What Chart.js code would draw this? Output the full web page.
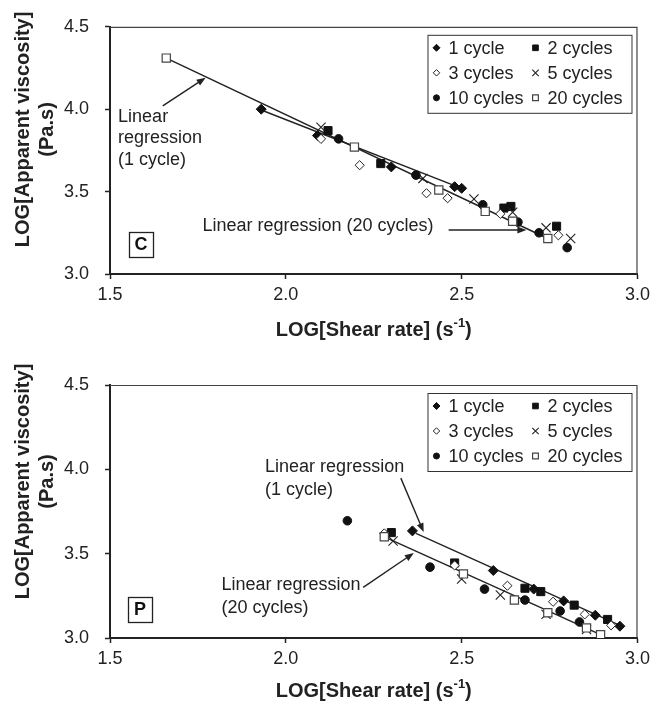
<!DOCTYPE html>
<html>
<head>
<meta charset="utf-8">
<script src="https://cdn.jsdelivr.net/npm/chart.js@4.4.1/dist/chart.umd.min.js"></script>
<style>
  body { margin: 0; background: #fff; }
  .panel { position: absolute; left: 0; width: 655px; }
  canvas { display: block; }
</style>
</head>
<body>
<div class="panel" style="top:0;height:350px"><canvas id="chartC" width="655" height="350"></canvas></div>
<div class="panel" style="top:350px;height:352px"><canvas id="chartP" width="655" height="352"></canvas></div>
<script>
const fontFamily = '"Liberation Sans", Arial, Helvetica, sans-serif';

// legend names
const seriesNames = ['1 cycle', '2 cycles', '3 cycles', '5 cycles', '10 cycles', '20 cycles'];

// tick labels
const xTicks = [1.5, 2.0, 2.5, 3.0];
const yTicks = [3.0, 3.5, 4.0, 4.5];

// panel C : LOG shear rate (x) / LOG apparent viscosity (y)
const c1x = [1.93, 2.09, 2.30, 2.48, 2.50];
const c1y = [4.00, 3.84, 3.65, 3.53, 3.52];
const c2x = [2.12, 2.27, 2.62, 2.64, 2.77];
const c2y = [3.87, 3.67, 3.40, 3.41, 3.29];
const c3x = [2.10, 2.21, 2.40, 2.46, 2.61, 2.775];
const c3y = [3.82, 3.66, 3.49, 3.46, 3.365, 3.235];
const c5x = [2.10, 2.39, 2.535, 2.645, 2.74, 2.81];
const c5y = [3.89, 3.58, 3.455, 3.375, 3.28, 3.215];
const c10x = [2.15, 2.37, 2.56, 2.66, 2.72, 2.80];
const c10y = [3.82, 3.60, 3.42, 3.315, 3.25, 3.16];
const c20x = [1.66, 2.195, 2.435, 2.567, 2.645, 2.745];
const c20y = [4.31, 3.77, 3.51, 3.38, 3.32, 3.215];
// regression lines (end points)
const cFit1x = [1.93, 2.50];
const cFit1y = [3.995, 3.52];
const cFit20x = [1.66, 2.74];
const cFit20y = [4.31, 3.22];

// panel P
const p1x = [2.36, 2.59, 2.705, 2.79, 2.88, 2.95];
const p1y = [3.635, 3.40, 3.29, 3.22, 3.135, 3.07];
const p2x = [2.30, 2.48, 2.68, 2.725, 2.82, 2.915];
const p2y = [3.625, 3.445, 3.295, 3.275, 3.195, 3.11];
const p3x = [2.28, 2.48, 2.63, 2.76, 2.85, 2.925];
const p3y = [3.62, 3.43, 3.31, 3.215, 3.14, 3.075];
const p5x = [2.305, 2.50, 2.61, 2.74, 2.855];
const p5y = [3.575, 3.35, 3.255, 3.14, 3.05];
const p10x = [2.175, 2.41, 2.565, 2.68, 2.78, 2.835];
const p10y = [3.695, 3.42, 3.29, 3.225, 3.16, 3.095];
const p20x = [2.28, 2.505, 2.65, 2.745, 2.855, 2.895];
const p20y = [3.60, 3.38, 3.225, 3.15, 3.06, 3.02];
const pFit1x = [2.37, 2.95];
const pFit1y = [3.62, 3.075];
const pFit20x = [2.28, 2.895];
const pFit20y = [3.60, 3.02];

// marker look for each series (same order as seriesNames)
const seriesStyles = [
  { pointStyle: 'rectRot', radius: 5, backgroundColor: '#111', borderColor: '#111', borderWidth: 1 },
  { pointStyle: 'rect', radius: 5.7, backgroundColor: '#111', borderColor: '#111', borderWidth: 1 },
  { pointStyle: 'rectRot', radius: 4.6, backgroundColor: '#fff', borderColor: '#222', borderWidth: 1 },
  { pointStyle: 'crossRot', radius: 6.5, backgroundColor: '#222', borderColor: '#222', borderWidth: 1.1 },
  { pointStyle: 'circle', radius: 4.3, backgroundColor: '#111', borderColor: '#111', borderWidth: 1 },
  { pointStyle: 'rect', radius: 5.8, backgroundColor: '#fff', borderColor: '#444', borderWidth: 1.2 }
];

function toPoints(xs, ys) {
  return xs.map((x, i) => ({ x: x, y: ys[i] }));
}

// own marker drawing for the legend box
function drawMarker(ctx, st, x, y, r) {
  ctx.beginPath();
  if (st.pointStyle === 'circle') {
    ctx.arc(x, y, r, 0, Math.PI * 2);
  } else if (st.pointStyle === 'rect') {
    const h = r * Math.SQRT1_2;
    ctx.rect(x - h, y - h, 2 * h, 2 * h);
  } else if (st.pointStyle === 'rectRot') {
    ctx.moveTo(x - r, y); ctx.lineTo(x, y - r); ctx.lineTo(x + r, y); ctx.lineTo(x, y + r); ctx.closePath();
  } else if (st.pointStyle === 'crossRot') {
    const d = r * Math.SQRT1_2;
    ctx.moveTo(x - d, y - d); ctx.lineTo(x + d, y + d);
    ctx.moveTo(x - d, y + d); ctx.lineTo(x + d, y - d);
  }
  if (st.pointStyle !== 'crossRot') {
    ctx.fillStyle = st.backgroundColor;
    ctx.fill();
  }
  ctx.lineWidth = st.borderWidth;
  ctx.strokeStyle = st.borderColor;
  ctx.stroke();
}

function drawArrow(ctx, x1, y1, x2, y2) {
  const ang = Math.atan2(y2 - y1, x2 - x1);
  const len = 9, half = 3.5;
  ctx.strokeStyle = '#222';
  ctx.fillStyle = '#222';
  ctx.lineWidth = 1.4;
  ctx.beginPath();
  ctx.moveTo(x1, y1);
  ctx.lineTo(x2 - Math.cos(ang) * len * 0.8, y2 - Math.sin(ang) * len * 0.8);
  ctx.stroke();
  ctx.beginPath();
  ctx.moveTo(x2, y2);
  ctx.lineTo(x2 - Math.cos(ang) * len - Math.sin(ang) * half, y2 - Math.sin(ang) * len + Math.cos(ang) * half);
  ctx.lineTo(x2 - Math.cos(ang) * len + Math.sin(ang) * half, y2 - Math.sin(ang) * len - Math.cos(ang) * half);
  ctx.closePath();
  ctx.fill();
}

// frame, titles, legend and notes
function makeDecor(panel) {
  return {
    id: 'decor',
    afterDraw(chart) {
      const ctx = chart.ctx;
      const a = chart.chartArea;
      const sx = chart.scales.x, sy = chart.scales.y;
      ctx.save();

      // thin top / right frame
      ctx.strokeStyle = '#444';
      ctx.lineWidth = 1.2;
      ctx.beginPath();
      ctx.moveTo(a.left, a.top + 0.5);
      ctx.lineTo(a.right - 0.5, a.top + 0.5);
      ctx.lineTo(a.right - 0.5, a.bottom);
      ctx.stroke();

      // notes
      ctx.fillStyle = '#222';
      ctx.font = '18px ' + fontFamily;
      ctx.textAlign = 'left';
      ctx.textBaseline = 'middle';
      panel.notes.forEach(n => {
        ctx.fillText(n.text, sx.getPixelForValue(n.x), sy.getPixelForValue(n.y));
      });
      panel.arrows.forEach(r => {
        drawArrow(ctx, sx.getPixelForValue(r.x1), sy.getPixelForValue(r.y1),
          sx.getPixelForValue(r.x2), sy.getPixelForValue(r.y2));
      });

      // boxed panel letter
      const bx = sx.getPixelForValue(panel.letterX), by = sy.getPixelForValue(panel.letterY);
      ctx.strokeStyle = '#222';
      ctx.lineWidth = 1.3;
      ctx.strokeRect(Math.round(bx - 12) + 0.5, Math.round(by - 12.5) + 0.5, 24, 25);
      ctx.fillStyle = '#111';
      ctx.font = 'bold 18px ' + fontFamily;
      ctx.textAlign = 'center';
      ctx.fillText(panel.letter, bx, by + 1);

      // legend
      const lx = a.right - 210, ly = a.top + 8;
      ctx.strokeStyle = '#333';
      ctx.lineWidth = 1;
      ctx.fillStyle = '#fff';
      ctx.fillRect(lx, ly, 204, 78);
      ctx.strokeRect(lx + 0.5, ly + 0.5, 204, 78);
      ctx.font = '18px ' + fontFamily;
      ctx.textAlign = 'left';
      seriesNames.forEach((name, i) => {
        const col = i % 2, row = Math.floor(i / 2);
        const mx = lx + (col ? 108 : 9);
        const my = ly + 13 + row * 25;
        drawMarker(ctx, seriesStyles[i], mx, my, seriesStyles[i].radius * 0.7);
        ctx.fillStyle = '#222';
        ctx.fillText(name, mx + 12, my + 1);
      });

      // x title with superscript
      const xc = (a.left + a.right) / 2, xy = a.bottom + panel.xTitleGap;
      const mainT = 'LOG[Shear rate] (s', supT = '-1', endT = ')';
      ctx.font = 'bold 20px ' + fontFamily;
      const w1 = ctx.measureText(mainT).width, w3 = ctx.measureText(endT).width;
      ctx.font = 'bold 13px ' + fontFamily;
      const w2 = ctx.measureText(supT).width;
      let tx = xc - (w1 + w2 + w3) / 2;
      ctx.fillStyle = '#222';
      ctx.font = 'bold 20px ' + fontFamily;
      ctx.fillText(mainT, tx, xy);
      ctx.font = 'bold 13px ' + fontFamily;
      ctx.fillText(supT, tx + w1, xy - 7);
      ctx.font = 'bold 20px ' + fontFamily;
      ctx.fillText(endT, tx + w1 + w2, xy);

      // y title, two rotated lines
      const yc = (a.top + a.bottom) / 2 + panel.yTitleShift;
      ctx.textAlign = 'center';
      [['LOG[Apparent viscosity]', 23], ['(Pa.s)', 47]].forEach(([t, px]) => {
        ctx.save();
        ctx.translate(px, yc);
        ctx.rotate(-Math.PI / 2);
        ctx.fillText(t, 0, 0);
        ctx.restore();
      });
      ctx.restore();
    }
  };
}

function buildChart(canvasId, series, fits, panel) {
  const datasets = [];
  fits.forEach(f => {
    datasets.push({
      data: toPoints(f[0], f[1]),
      showLine: true,
      pointRadius: 0,
      borderColor: '#222',
      borderWidth: 1.4,
      order: 10
    });
  });
  series.forEach((s, i) => {
    const st = seriesStyles[i];
    datasets.push({
      label: seriesNames[i],
      data: toPoints(s[0], s[1]),
      pointStyle: st.pointStyle,
      pointRadius: st.radius,
      pointBackgroundColor: st.backgroundColor,
      pointBorderColor: st.borderColor,
      pointBorderWidth: st.borderWidth,
      showLine: false,
      order: 6 - i
    });
  });

  const tickFont = { size: 18, family: fontFamily };
  return new Chart(document.getElementById(canvasId), {
    type: 'scatter',
    data: { datasets: datasets },
    options: {
      responsive: false,
      animation: false,
      layout: { padding: { top: panel.padTop, right: 16, left: 0, bottom: 0 } },
      plugins: { legend: { display: false }, tooltip: { enabled: false } },
      scales: {
        x: {
          type: 'linear',
          min: xTicks[0],
          max: xTicks[xTicks.length - 1],
          afterBuildTicks: s => { s.ticks = xTicks.map(v => ({ value: v })); },
          ticks: { font: tickFont, color: '#222', padding: 5, maxRotation: 0, callback: v => v.toFixed(1) },
          grid: { drawOnChartArea: false, drawTicks: true, tickLength: 5, tickColor: '#222', tickWidth: 1.5 },
          border: { display: true, color: '#222', width: 2 },
          afterFit: s => { s.height = panel.xAxisHeight; }
        },
        y: {
          type: 'linear',
          min: yTicks[0],
          max: yTicks[yTicks.length - 1],
          afterBuildTicks: s => { s.ticks = yTicks.map(v => ({ value: v })); },
          ticks: { font: tickFont, color: '#222', padding: 16, callback: v => v.toFixed(1) },
          grid: { drawOnChartArea: false, drawTicks: true, tickLength: 5, tickColor: '#222', tickWidth: 1.5 },
          border: { display: true, color: '#222', width: 2 },
          afterFit: s => { s.width = 110; }
        }
      }
    },
    plugins: [makeDecor(panel)]
  });
}

buildChart('chartC',
  [[c1x, c1y], [c2x, c2y], [c3x, c3y], [c5x, c5y], [c10x, c10y], [c20x, c20y]],
  [[cFit1x, cFit1y], [cFit20x, cFit20y]],
  {
    padTop: 21, xAxisHeight: 76, yTitleShift: -21, xTitleGap: 56,
    letter: 'C', letterX: 1.588, letterY: 3.181,
    notes: [
      { x: 1.523, y: 3.954, text: 'Linear' },
      { x: 1.523, y: 3.824, text: 'regression' },
      { x: 1.523, y: 3.694, text: '(1 cycle)' },
      { x: 1.763, y: 3.290, text: 'Linear regression (20 cycles)' }
    ],
    arrows: [
      { x1: 1.650, y1: 4.020, x2: 1.772, y2: 4.191 },
      { x1: 2.463, y1: 3.267, x2: 2.684, y2: 3.267 }
    ]
  });

buildChart('chartP',
  [[p1x, p1y], [p2x, p2y], [p3x, p3y], [p5x, p5y], [p10x, p10y], [p20x, p20y]],
  [[pFit1x, pFit1y], [pFit20x, pFit20y]],
  {
    padTop: 35, xAxisHeight: 64, yTitleShift: -30, xTitleGap: 53,
    letter: 'P', letterX: 1.585, letterY: 3.169,
    notes: [
      { x: 1.941, y: 4.014, text: 'Linear regression' },
      { x: 1.941, y: 3.877, text: '(1 cycle)' },
      { x: 1.817, y: 3.315, text: 'Linear regression' },
      { x: 1.817, y: 3.178, text: '(20 cycles)' }
    ],
    arrows: [
      { x1: 2.327, y1: 3.948, x2: 2.392, y2: 3.628 },
      { x1: 2.220, y1: 3.300, x2: 2.364, y2: 3.504 }
    ]
  });
</script>
</body>
</html>
